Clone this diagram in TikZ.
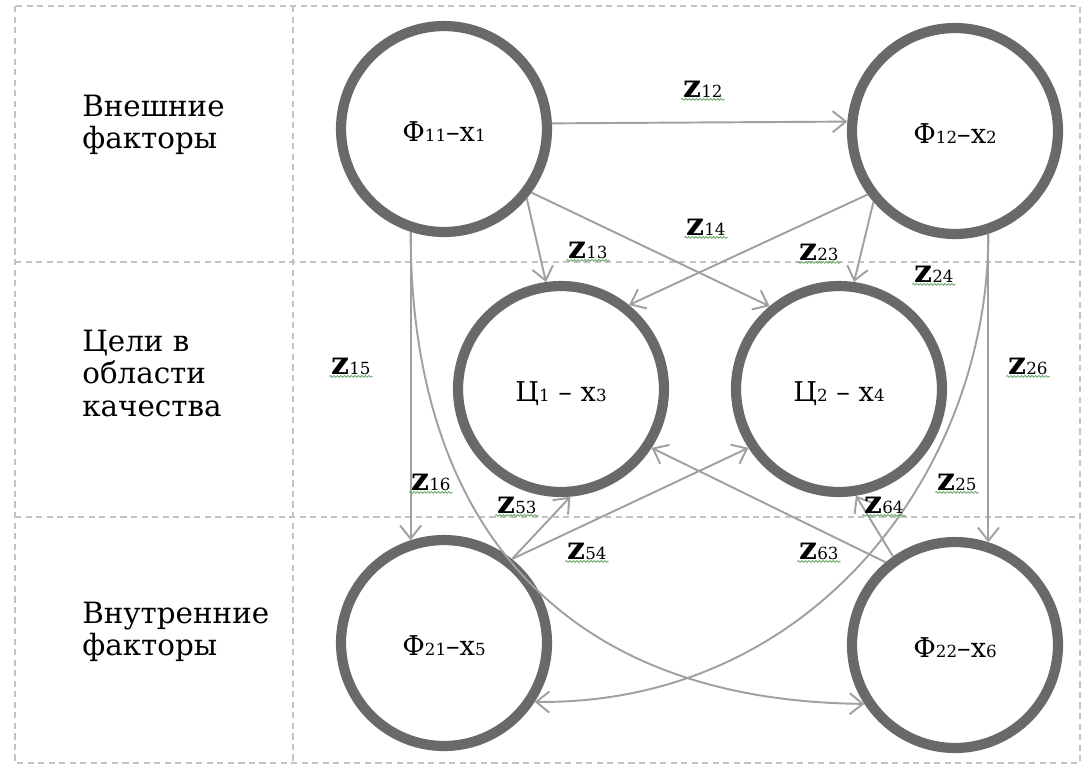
\documentclass[tikz,border=0pt]{standalone}
\usepackage{fontspec}
\setmainfont{DejaVu Serif}
\usetikzlibrary{arrows.meta,decorations.pathmorphing}
\definecolor{circ}{RGB}{105,105,105}
\definecolor{edgec}{RGB}{160,160,160}
\definecolor{gridc}{RGB}{195,195,195}
\definecolor{wavyc}{RGB}{110,170,110}
\newcommand{\nsub}[1]{{\fontsize{9.5}{9.5}\selectfont #1}}
\newcommand{\zsub}[1]{{\fontsize{9.5}{9.5}\selectfont #1}}
\newcommand{\zlbl}[1]{\textbf{z}\zsub{#1}}
\begin{document}
\begin{tikzpicture}[x=0.02cm,y=-0.02cm,
  fac/.style={circle, draw=circ, line width=5.8pt, minimum size=4.12cm, inner sep=0pt, fill=white, font=\fontsize{15.5}{17}\selectfont, text height=14pt, text depth=0pt},
  conn/.style={draw=edgec, line width=1.1pt, -{Straight Barb[length=7.5pt,width=12pt]}},
  gridl/.style={draw=gridc, line width=1pt, dash pattern=on 3.5pt off 2.5pt},
  wavy/.style={draw=wavyc, line width=0.5pt, decorate, decoration={snake, amplitude=0.5pt, segment length=2pt}},
  zlab/.style={font=\fontsize{18}{18}\selectfont, inner sep=1pt, append after command={(\tikzlastnode.south west) edge[wavy] (\tikzlastnode.south east)}},
  side/.style={anchor=base west, inner sep=0pt, font=\fontsize{16.7}{18.7}\selectfont}
]
\useasboundingbox (0,0) rectangle (1085,769);
% grid
\draw[gridl] (15,6) rectangle (1080,763);
\draw[gridl] (293,6) -- (293,763);
\draw[gridl] (15,262) -- (1080,262);
\draw[gridl] (15,517) -- (1080,517);
% row labels
\node[side] (lext) at (82,116) {\begin{tabular}[t]{@{}l@{}}Внешние\\факторы\end{tabular}};
\node[side] (lgoal) at (82,351) {\begin{tabular}[t]{@{}l@{}}Цели в\\области\\качества\end{tabular}};
\node[side] (lint) at (82,623) {\begin{tabular}[t]{@{}l@{}}Внутренние\\факторы\end{tabular}};
% circles
\node[fac] (f11) at (444,129) {Ф\nsub{11}–x\nsub{1}};
\node[fac] (f12) at (955,131) {Ф\nsub{12}–x\nsub{2}};
\node[fac] (c1) at (561,389) {Ц\nsub{1} – x\nsub{3}};
\node[fac] (c2) at (839,389) {Ц\nsub{2} – x\nsub{4}};
\node[fac] (f21) at (444,643) {Ф\nsub{21}–x\nsub{5}};
\node[fac] (f22) at (955,645) {Ф\nsub{22}–x\nsub{6}};
% connectors
\draw[conn] (f11.3.2) -- (f12.175.8);
\draw[conn] (f11.-40.7) -- (c1.98.5);
\draw[conn] (f11.-36.6) -- (c2.130);
\draw[conn] (f12.221.5) -- (c2.82.7);
\draw[conn] (f12.216) -- (c1.51.6);
\draw[conn] (f11.-108.3) -- (f21.108.3);
\draw[conn] (f12.-72.2) -- (f22.72.2);
\draw[conn] (f21.51.9) -- (c1.-85.8);
\draw[conn] (f21.51.9) -- (c2.213);
\draw[conn] (f22.130) -- (c1.-33);
\draw[conn] (f22.125) -- (c2.-81.6);
\draw[conn] (f11.-108.3) .. controls +(0,288) and +(-307,-3) .. (f22.213.4);
\draw[conn] (f12.-72.2) .. controls +(0,235) and +(280,3) .. (f21.-33.7);
% connector labels
\node[zlab] (z12) at (703,89) {\zlbl{12}};
\node[zlab] (z14) at (706,227) {\zlbl{14}};
\node[zlab] (z13) at (588,250) {\zlbl{13}};
\node[zlab] (z23) at (819,252) {\zlbl{23}};
\node[zlab] (z24) at (934,274) {\zlbl{24}};
\node[zlab] (z15) at (351,366) {\zlbl{15}};
\node[zlab] (z26) at (1028,366) {\zlbl{26}};
\node[zlab] (z16) at (431,482) {\zlbl{16}};
\node[zlab] (z25) at (957,482) {\zlbl{25}};
\node[zlab] (z53) at (517,505) {\zlbl{53}};
\node[zlab] (z64) at (884,505) {\zlbl{64}};
\node[zlab] (z54) at (587,551) {\zlbl{54}};
\node[zlab] (z63) at (819,551) {\zlbl{63}};
\end{tikzpicture}
\end{document}
